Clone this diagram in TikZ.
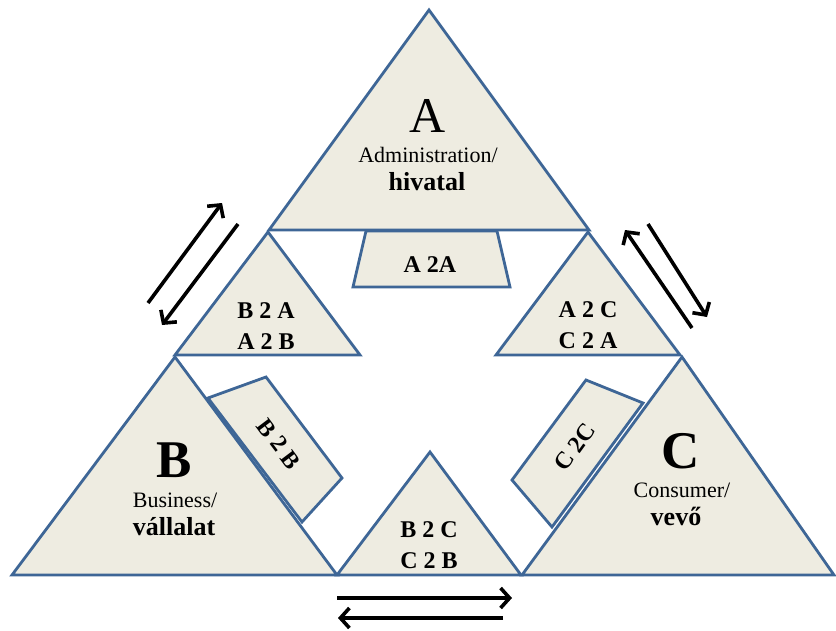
\documentclass[tikz,border=0pt]{standalone}
\usepackage{fontspec}
\setmainfont{Liberation Serif}
\usetikzlibrary{arrows.meta}

\definecolor{edgeblue}{RGB}{62,102,150}
\definecolor{shapefill}{RGB}{238,236,225}

\tikzset{
    tri/.style = {draw = edgeblue, fill = shapefill, line width = 2.8pt, line join = miter},
    flow/.style = {line width = 3.6pt, -{Straight Barb[length = 9pt, width = 20pt]}},
    bigletter/.style = {anchor = base, inner sep = 0pt, font = \fontsize{50}{50}\selectfont},
    engtext/.style = {anchor = base, inner sep = 0pt, font = \fontsize{22}{26}\selectfont},
    huntext/.style = {anchor = base, inner sep = 0pt, font = \fontsize{26}{30}\selectfont\bfseries},
    pairtext/.style = {anchor = base, inner sep = 0pt, align = center, font = \fontsize{24}{31}\selectfont\bfseries}
}

\begin{document}
\begin{tikzpicture}[x = 1pt, y = -1pt]
        \useasboundingbox (0, 0) rectangle (836, 630);

        \draw [tri] (353, 287) -- (366, 231) -- (497, 231) -- (510, 287) -- cycle;
        \draw [tri] (208, 398) -- (266, 377) -- (342, 478) -- (302, 522) -- cycle;
        \draw [tri] (586, 380) -- (643, 403) -- (552, 527) -- (512, 480) -- cycle;

        \draw [tri] (429, 10) -- (589, 230) -- (269, 230) -- cycle;
        \draw [tri] (268, 232) -- (360, 355) -- (175, 355) -- cycle;
        \draw [tri] (588, 232) -- (680, 355) -- (496, 355) -- cycle;
        \draw [tri] (175, 357) -- (337, 575) -- (12, 575) -- cycle;
        \draw [tri] (682, 357) -- (834, 575) -- (522, 575) -- cycle;
        \draw [tri] (430, 452) -- (521, 575) -- (337, 575) -- cycle;

        \coordinate (ba1s) at (148, 303);
        \coordinate (ba1e) at (222, 203);
        \coordinate (ba2s) at (238, 224);
        \coordinate (ba2e) at (162, 325);
        \coordinate (ac1s) at (692, 328);
        \coordinate (ac1e) at (625, 230);
        \coordinate (ac2s) at (648, 224);
        \coordinate (ac2e) at (707, 317);
        \coordinate (bc1s) at (337, 598);
        \coordinate (bc1e) at (512, 598);
        \coordinate (bc2s) at (503, 618);
        \coordinate (bc2e) at (338, 618);

        \draw [flow] (ba1s) -- (ba1e);
        \draw [flow] (ba2s) -- (ba2e);
        \draw [flow] (ac1s) -- (ac1e);
        \draw [flow] (ac2s) -- (ac2e);
        \draw [flow] (bc1s) -- (bc1e);
        \draw [flow] (bc2s) -- (bc2e);

        \node [bigletter] (letA) at (428, 132) {A};
        \node [engtext] (engA) at (428, 162) {Administration/};
        \node [huntext] (hunA) at (427, 190) {hivatal};

        \node [bigletter, font = \fontsize{53}{53}\selectfont\bfseries] (letB) at (174, 477) {B};
        \node [engtext] (engB) at (175, 507) {Business/};
        \node [huntext] (hunB) at (174, 535) {vállalat};

        \node [bigletter, font = \fontsize{53}{53}\selectfont\bfseries] (letC) at (681, 468) {C};
        \node [engtext] (engC) at (682, 497) {Consumer/};
        \node [huntext] (hunC) at (676, 525) {vevő};

        \node [pairtext] (aa) at (430, 272) {A 2A};
        \node [pairtext] (ab) at (266, 349) {B 2 A\\A 2 B};
        \node [pairtext] (ac) at (588, 348) {A 2 C\\C 2 A};
        \node [pairtext] (bc) at (429, 568) {B 2 C\\C 2 B};
        \node [pairtext, anchor = center, rotate = -53] (bb) at (279, 444) {B 2 B};
        \node [pairtext, anchor = center, rotate = 54] (cc) at (575, 447) {C 2C};
    \end{tikzpicture}
\end{document}
